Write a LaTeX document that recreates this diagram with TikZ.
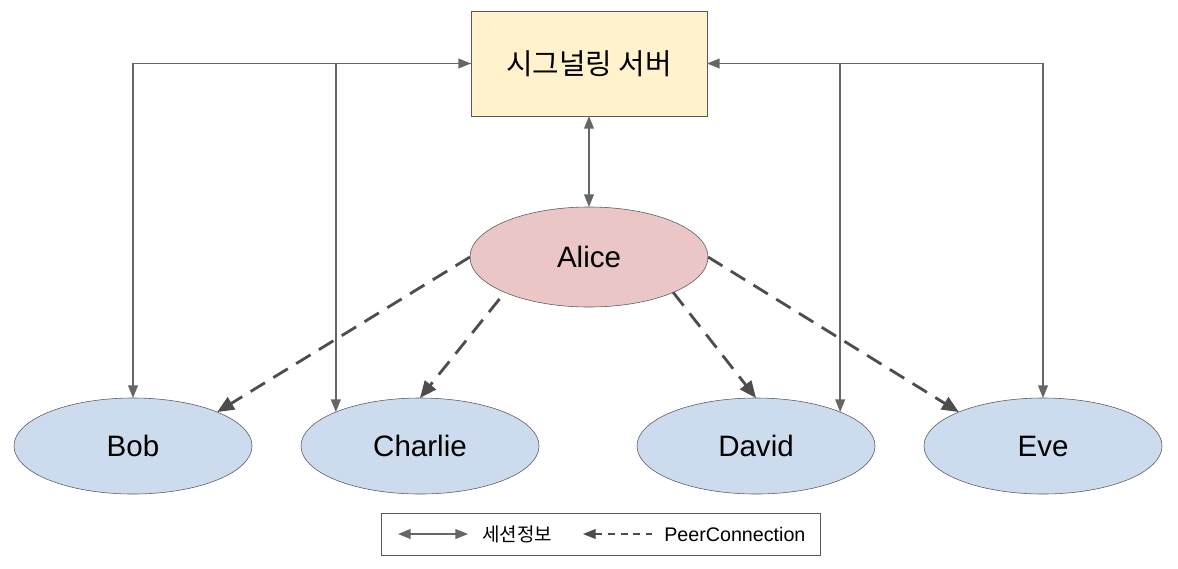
\documentclass[tikz,border=0pt]{standalone}
\usepackage{fontspec}
\setmainfont{Liberation Sans}
\newfontfamily\krfont{Noto Sans CJK KR}
\usepackage{xcolor}
\usetikzlibrary{arrows.meta,shapes.geometric}

\definecolor{serverfill}{HTML}{FFF2CC}
\definecolor{alicefill}{HTML}{EAC6C6}
\definecolor{peerfill}{HTML}{CCDCEE}
\definecolor{linegray}{HTML}{666666}
\definecolor{dashgray}{HTML}{4D4D4D}
\definecolor{bordergray}{HTML}{595959}

\begin{document}
\begin{tikzpicture}[x=0.025cm,y=-0.025cm,
  peer/.style={draw=bordergray,ellipse,fill=peerfill,minimum width=5.95cm,minimum height=2.4cm,inner sep=0pt,outer sep=0pt,font=\fontsize{21}{25}\selectfont},
  signal/.style={draw=linegray,line width=1pt,>={Triangle[length=9pt,width=7pt]}},
  offer/.style={draw=dashgray,line width=2pt,dash pattern=on 12pt off 7pt,-{Triangle[length=12pt,width=10pt]}}
]

\useasboundingbox (0,0) rectangle (1178,568);

% server and peers
\node[draw=bordergray,fill=serverfill,minimum width=5.9cm,minimum height=2.625cm,inner sep=0pt,outer sep=0pt,font=\krfont\fontsize{20.5}{24}\selectfont] (Server) at (589,63.5) {시그널링 서버};
\node[peer,fill=alicefill,minimum height=2.5cm] (PeerAlice) at (589,257) {Alice};
\node[peer] (PeerBob) at (133,446) {Bob};
\node[peer] (PeerCharlie) at (420,446) {Charlie};
\node[peer] (PeerDavid) at (756,446) {David};
\node[peer] (PeerEve) at (1043,446) {Eve};


% signalling
\draw[signal,<->] (Server.south) to (PeerAlice.north);
\draw[signal,<->] (PeerBob.north) |- (Server.west);
\draw[signal,<-] (PeerCharlie.north west) |- (Server.west);
\draw[signal,<->] (PeerEve.north) |- (Server.east);
\draw[signal,<-] (PeerDavid.north east) |- (Server.east);

% peer connections
\draw[offer] (PeerAlice.west) to (PeerBob.north east);
\draw[offer,shorten <=6pt] (PeerAlice.south west) to (PeerCharlie.north);
\draw[offer] (PeerAlice.south east) to (PeerDavid.north);
\draw[offer] (PeerAlice.east) to (PeerEve.north west);


% legend
\node[draw=bordergray,minimum width=10.975cm,minimum height=1.05cm,inner sep=0pt] (Legend) at (600.5,534) {};
\node[anchor=west,inner sep=0pt,font=\krfont\fontsize{13.5}{16}\selectfont] (LegendInfo) at (482,534) {세션정보};
\node[anchor=west,inner sep=0pt,font=\fontsize{14}{17}\selectfont] (LegendPeer) at (664,534) {PeerConnection};
\coordinate (KeyInfoA) at (398,534);
\coordinate (KeyInfoB) at (468,534);
\coordinate (KeyPeerA) at (583,534);
\coordinate (KeyPeerB) at (652,534);

\draw[signal,<->] (KeyInfoA) to (KeyInfoB);
\draw[draw=dashgray,line width=0.9pt,dash pattern=on 5pt off 4pt,{Triangle[length=9pt,width=7pt]}-] (KeyPeerA) to (KeyPeerB);

\end{tikzpicture}
\end{document}
